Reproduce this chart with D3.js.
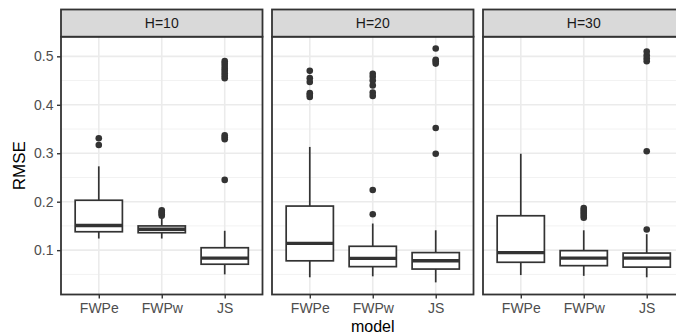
<!DOCTYPE html>
<html>
<head>
<meta charset="utf-8">
<script src="https://cdn.jsdelivr.net/npm/d3@7"></script>
<style>
body{margin:0;background:#fff;}
svg{display:block;font-family:"Liberation Sans",Arial,Helvetica,sans-serif;}
</style>
</head>
<body>
<svg id="chart" width="676" height="333"></svg>
<script>
const panels = ["H=10", "H=20", "H=30"];
const models = ["FWPe", "FWPw", "JS"];
const yTicks = [0.1, 0.2, 0.3, 0.4, 0.5];
const yMinor = [0.05, 0.15, 0.25, 0.35, 0.45];

// box stats per panel, per model: [whiskerLow, q1, median, q3, whiskerHigh]
const statsH10 = [[0.124, 0.138, 0.151, 0.203, 0.273],
                  [0.124, 0.136, 0.143, 0.150, 0.166],
                  [0.050, 0.071, 0.0835, 0.105, 0.140]];
const statsH20 = [[0.044, 0.078, 0.114, 0.191, 0.313],
                  [0.046, 0.066, 0.083, 0.108, 0.155],
                  [0.0335, 0.061, 0.078, 0.095, 0.141]];
const statsH30 = [[0.0486, 0.075, 0.095, 0.171, 0.299],
                  [0.047, 0.068, 0.0835, 0.099, 0.141],
                  [0.044, 0.065, 0.0835, 0.094, 0.133]];

const outliersH10 = [[0.331, 0.317],
                     [0.171, 0.174, 0.177, 0.179, 0.182],
                     [0.245, 0.329, 0.333, 0.337, 0.455, 0.460, 0.465, 0.470, 0.475, 0.480, 0.485, 0.490]];
const outliersH20 = [[0.470, 0.455, 0.447, 0.424, 0.416, 0.420],
                     [0.174, 0.224, 0.464, 0.458, 0.450, 0.440, 0.425, 0.418],
                     [0.299, 0.352, 0.485, 0.490, 0.493, 0.516]];
const outliersH30 = [[],
                     [0.167, 0.171, 0.175, 0.179, 0.183, 0.187],
                     [0.1426, 0.304, 0.490, 0.496, 0.502, 0.510]];

const allStats = [statsH10, statsH20, statsH30];
const allOutliers = [outliersH10, outliersH20, outliersH30];

const svg = d3.select("#chart");
const left = 61, panelW = 201.5, gap = 9.5;
const stripTop = 9.5, stripBot = 36.7, panelBot = 294.5;

const y = d3.scaleLinear().domain([0.0085, 0.5405]).range([panelBot, stripBot]);
const x = d3.scalePoint().domain(models).range([0, panelW]).padding(0.6);
const unit = x.step();
const boxW = unit * 0.75;
const ink = "#333333";
const lw = 1.7;

panels.forEach((p, i) => {
  const x0 = left + i * (panelW + gap);
  const g = svg.append("g").attr("transform", `translate(${x0},0)`);
  g.append("rect").attr("x", 0).attr("y", stripBot).attr("width", panelW).attr("height", panelBot - stripBot).attr("fill", "#fff");
  g.selectAll(".minor").data(yMinor).enter().append("line")
    .attr("x1", 0).attr("x2", panelW).attr("y1", d => y(d)).attr("y2", d => y(d))
    .attr("stroke", "#F2F2F2").attr("stroke-width", 1);
  g.selectAll(".major").data(yTicks).enter().append("line")
    .attr("x1", 0).attr("x2", panelW).attr("y1", d => y(d)).attr("y2", d => y(d))
    .attr("stroke", "#EBEBEB").attr("stroke-width", 1.6);
  g.selectAll(".vmajor").data(models).enter().append("line")
    .attr("x1", d => x(d)).attr("x2", d => x(d)).attr("y1", stripBot).attr("y2", panelBot)
    .attr("stroke", "#EBEBEB").attr("stroke-width", 1.6);

  const st = allStats[i], out = allOutliers[i];
  models.forEach((m, j) => {
    const s = st[j], cx = x(m);
    const bg = g.append("g");
    bg.append("line").attr("x1", cx).attr("x2", cx).attr("y1", y(s[0])).attr("y2", y(s[1])).attr("stroke", ink).attr("stroke-width", lw);
    bg.append("line").attr("x1", cx).attr("x2", cx).attr("y1", y(s[3])).attr("y2", y(s[4])).attr("stroke", ink).attr("stroke-width", lw);
    bg.append("rect").attr("x", cx - boxW / 2).attr("width", boxW)
      .attr("y", y(s[3])).attr("height", y(s[1]) - y(s[3]))
      .attr("fill", "#fff").attr("stroke", ink).attr("stroke-width", lw);
    bg.append("line").attr("x1", cx - boxW / 2).attr("x2", cx + boxW / 2).attr("y1", y(s[2])).attr("y2", y(s[2]))
      .attr("stroke", ink).attr("stroke-width", 3.4);
    bg.selectAll("circle").data(out[j]).enter().append("circle")
      .attr("cx", cx).attr("cy", d => y(d)).attr("r", 3.3).attr("fill", ink);
  });

  g.append("rect").attr("x", 0).attr("y", stripBot).attr("width", panelW).attr("height", panelBot - stripBot)
    .attr("fill", "none").attr("stroke", ink).attr("stroke-width", 1.8);
  g.append("rect").attr("x", 0).attr("y", stripTop).attr("width", panelW).attr("height", stripBot - stripTop)
    .attr("fill", "#D9D9D9").attr("stroke", ink).attr("stroke-width", 1.8);
  g.append("text").attr("x", panelW / 2).attr("y", (stripTop + stripBot) / 2).attr("dy", "0.36em")
    .attr("text-anchor", "middle").attr("font-size", 14).attr("fill", "#1A1A1A").text(p);

  const xa = g.append("g").attr("transform", `translate(0,${panelBot})`)
    .call(d3.axisBottom(x).tickSize(4).tickPadding(5));
  xa.select(".domain").remove();
  xa.selectAll("line").attr("stroke", ink).attr("stroke-width", 1.4);
  xa.selectAll("text").attr("font-size", 14).attr("fill", "#4D4D4D").attr("font-family", "Liberation Sans,Arial,sans-serif");
});

const ya = svg.append("g").attr("transform", `translate(${left},0)`)
  .call(d3.axisLeft(y).tickValues(yTicks).tickFormat(d3.format(".1f")).tickSize(4).tickPadding(3.5));
ya.select(".domain").remove();
ya.selectAll("line").attr("stroke", ink).attr("stroke-width", 1.4);
ya.selectAll("text").attr("font-size", 14).attr("fill", "#4D4D4D").attr("font-family", "Liberation Sans,Arial,sans-serif");

svg.append("text").attr("transform", `translate(19,${(stripBot + panelBot) / 2}) rotate(-90)`)
  .attr("text-anchor", "middle").attr("dy", "0.36em").attr("font-size", 17).attr("fill", "#000").text("RMSE");
svg.append("text").attr("x", left + (3 * panelW + 2 * gap) / 2).attr("y", 331.5)
  .attr("text-anchor", "middle").attr("font-size", 16).attr("fill", "#000").text("model");
</script>
</body>
</html>
